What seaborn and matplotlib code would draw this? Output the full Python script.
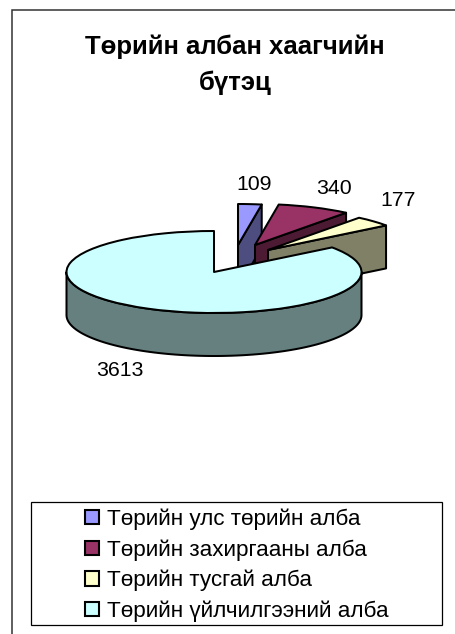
import numpy as np
import matplotlib
matplotlib.use("Agg")
import matplotlib.pyplot as plt
from matplotlib.patches import Rectangle
import seaborn as sns

# --- data ---
title_lines = ["Төрийн албан хаагчийн", "бүтэц"]
categories = ["Төрийн улс төрийн алба", "Төрийн захиргааны алба",
              "Төрийн тусгай алба", "Төрийн үйлчилгээний алба"]
values = [109, 340, 177, 3613]
top_colors = ["#9999FF", "#993366", "#FFFFCC", "#CCFFFF"]

# --- layout (pixels of the 455x634 canvas) ---
W, H = 455, 634
CX, CY = 214, 272      # pie centre
RX, RY = 147.5, 41     # ellipse semi-axes
DEPTH = 43             # wall height
shift_px = [(24, 27), (41, 27), (54, 22), (0, 0)]
label_px = [(254, 185), (334, 189), (398, 200), (120, 371)]

sns.set_theme(style="white")
plt.rcParams["font.family"] = ["Liberation Sans", "DejaVu Sans"]
palette = sns.color_palette(top_colors)
wall_colors = [tuple(c * 0.5 for c in col) for col in palette]


def X(px):
    return (px - CX) / RX


def Y(py):
    return (CY - py) / RY


fig = plt.figure(figsize=(W / 100, H / 100), dpi=100, facecolor="white")
ax = fig.add_axes([0, 0, 1, 1])
LW = 1.45

wedges, _ = ax.pie(values, startangle=90, counterclock=False, colors=palette,
                   wedgeprops=dict(edgecolor="black", linewidth=LW))
ax.set_aspect("auto")
ax.set_xlim(X(0), X(W))
ax.set_ylim(Y(H), Y(0))
ax.set_xticks([])
ax.set_yticks([])
ax.set_frame_on(False)

depth = DEPTH / RY
for i, (w, (sx, sy)) in enumerate(zip(wedges, shift_px)):
    cx, cy = sx / RX, sy / RY
    w.set_center((cx, cy))
    z = 2 + i * 2
    w.set_zorder(z + 1)
    w.set_joinstyle("round")
    if i < 3:
        # flat cut wall on the clockwise end of the slice
        t = np.deg2rad(w.theta1)
        ex, ey = cx + np.cos(t), cy + np.sin(t)
        xs = [cx, ex, ex, cx]
        ys = [cy, ey, ey - depth, cy - depth]
    else:
        # front outer wall of the big slice
        t = np.deg2rad(np.linspace(-180, 0, 200))
        xs = np.r_[cx + np.cos(t), (cx + np.cos(t))[::-1]]
        ys = np.r_[cy + np.sin(t) - depth, (cy + np.sin(t))[::-1]]
    ax.fill(xs, ys, facecolor=wall_colors[i], edgecolor="black",
            linewidth=LW, zorder=z, joinstyle="round")

for v, (lx, ly) in zip(values, label_px):
    ax.text(X(lx), Y(ly), str(v), ha="center", va="center",
            fontsize=15.3, color="black", zorder=20)

ax.text(X(235), Y(47), title_lines[0], ha="center", va="center",
        fontsize=18.5, fontweight="bold", color="black")
ax.text(X(235), Y(83), title_lines[1], ha="center", va="center",
        fontsize=18.5, fontweight="bold", color="black")

# outer chart frame: only top and left edges fall inside the canvas
ax.plot([X(12), X(12), X(W + 5)], [Y(H + 5), Y(10), Y(10)],
        color="#333333", linewidth=1.1, zorder=1, solid_joinstyle="miter")

# legend box
ax.add_patch(Rectangle((X(31), Y(625)), X(442) - X(31), Y(502) - Y(625),
                       facecolor="white", edgecolor="black", linewidth=0.9, zorder=10))
leg = ax.legend(wedges, categories, frameon=False, fontsize=16.2,
                loc="upper left", bbox_to_anchor=(85 / W, 1 - 508.5 / H),
                bbox_transform=ax.transAxes, borderpad=0, borderaxespad=0,
                handlelength=0.6, handleheight=0.6, handletextpad=0.36,
                labelspacing=0.41, labelcolor="black")
leg.set_zorder(11)
for h in leg.legend_handles:
    h.set_edgecolor("black")
    h.set_linewidth(1.5)

fig.savefig("out.png", dpi=100, facecolor="white")
